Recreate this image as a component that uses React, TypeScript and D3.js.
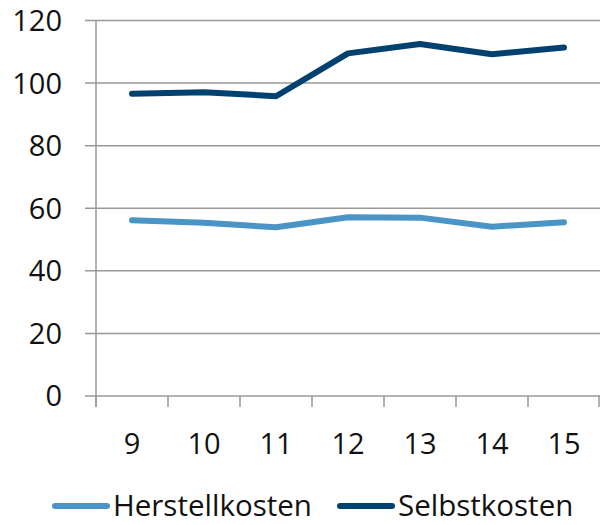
import * as d3 from "d3";
import { useEffect, useRef } from "react";

// Kategorien (x-Achse) und Reihenwerte
const categories = ["9", "10", "11", "12", "13", "14", "15"];
const herstellkosten = [56.2, 55.4, 53.9, 57.1, 57.0, 54.1, 55.5];
const selbstkosten = [96.6, 97.1, 95.8, 109.5, 112.5, 109.2, 111.4];
const yTicks = [0, 20, 40, 60, 80, 100, 120];

const seriesNames = ["Herstellkosten", "Selbstkosten"];
const seriesColors = ["#4a95c5", "#00416f"];

const App = () => {
  const svgRef = useRef<SVGSVGElement | null>(null);
  const width = 600;
  const height = 525;

  useEffect(() => {
    if (!svgRef.current) return;
    const svg = d3.select(svgRef.current);
    svg.selectAll("*").remove();

    const font = "'Open Sans', 'Noto Sans', sans-serif";
    const left = 96;
    const right = 600;
    const top = 20.5;
    const bottom = 396;

    const x = d3.scaleBand<string>().domain(categories).range([left, right]).padding(0);
    const y = d3.scaleLinear().domain([0, 120]).range([bottom, top]);

    const grid = "#999999";

    // Gitterlinien + y-Beschriftung
    yTicks.forEach((t) => {
      svg
        .append("line")
        .attr("x1", left - 11)
        .attr("x2", right)
        .attr("y1", y(t))
        .attr("y2", y(t))
        .attr("stroke", grid)
        .attr("stroke-width", 1.5);
      svg
        .append("text")
        .attr("x", 62)
        .attr("y", y(t))
        .attr("dy", "0.36em")
        .attr("text-anchor", "end")
        .attr("font-family", font)
        .attr("font-size", 29)
        .attr("fill", "#111")
        .text(t);
    });

    // y-Achsenlinie
    svg
      .append("line")
      .attr("x1", left)
      .attr("x2", left)
      .attr("y1", top)
      .attr("y2", bottom + 11)
      .attr("stroke", grid)
      .attr("stroke-width", 1.5);

    // x-Achse Teilstriche an den Bandgrenzen
    const edges = categories.map((c) => x(c)!).concat([right - 1]);
    edges.forEach((ex) => {
      svg
        .append("line")
        .attr("x1", ex)
        .attr("x2", ex)
        .attr("y1", bottom)
        .attr("y2", bottom + 11)
        .attr("stroke", grid)
        .attr("stroke-width", 1.5);
    });

    // x-Beschriftung
    categories.forEach((c) => {
      svg
        .append("text")
        .attr("x", x(c)! + x.bandwidth() / 2)
        .attr("y", 454)
        .attr("text-anchor", "middle")
        .attr("font-family", font)
        .attr("font-size", 29)
        .attr("fill", "#111")
        .text(c);
    });

    // Linien
    const line = d3
      .line<number>()
      .x((_, i) => x(categories[i])! + x.bandwidth() / 2)
      .y((d) => y(d));

    [herstellkosten, selbstkosten].forEach((s, i) => {
      svg
        .append("path")
        .datum(s)
        .attr("fill", "none")
        .attr("stroke", seriesColors[i])
        .attr("stroke-width", 6)
        .attr("stroke-linecap", "round")
        .attr("stroke-linejoin", "round")
        .attr("d", line);
    });

    // Legende
    const legendX = [55, 340];
    seriesNames.forEach((name, i) => {
      const g = svg.append("g").attr("transform", `translate(${legendX[i]},506)`);
      g.append("line")
        .attr("x1", 0)
        .attr("x2", 52)
        .attr("y1", 0)
        .attr("y2", 0)
        .attr("stroke", seriesColors[i])
        .attr("stroke-width", 6)
        .attr("stroke-linecap", "round");
      g.append("text")
        .attr("x", 58)
        .attr("y", 0)
        .attr("dy", "0.34em")
        .attr("font-family", font)
        .attr("font-size", 29.5)
        .attr("fill", "#111")
        .text(name);
    });
  }, []);

  return (
    <div style={{ position: "absolute", left: 0, top: 0 }}>
      <svg ref={svgRef} width={width} height={height} style={{ display: "block" }} />
    </div>
  );
};

export default App;
